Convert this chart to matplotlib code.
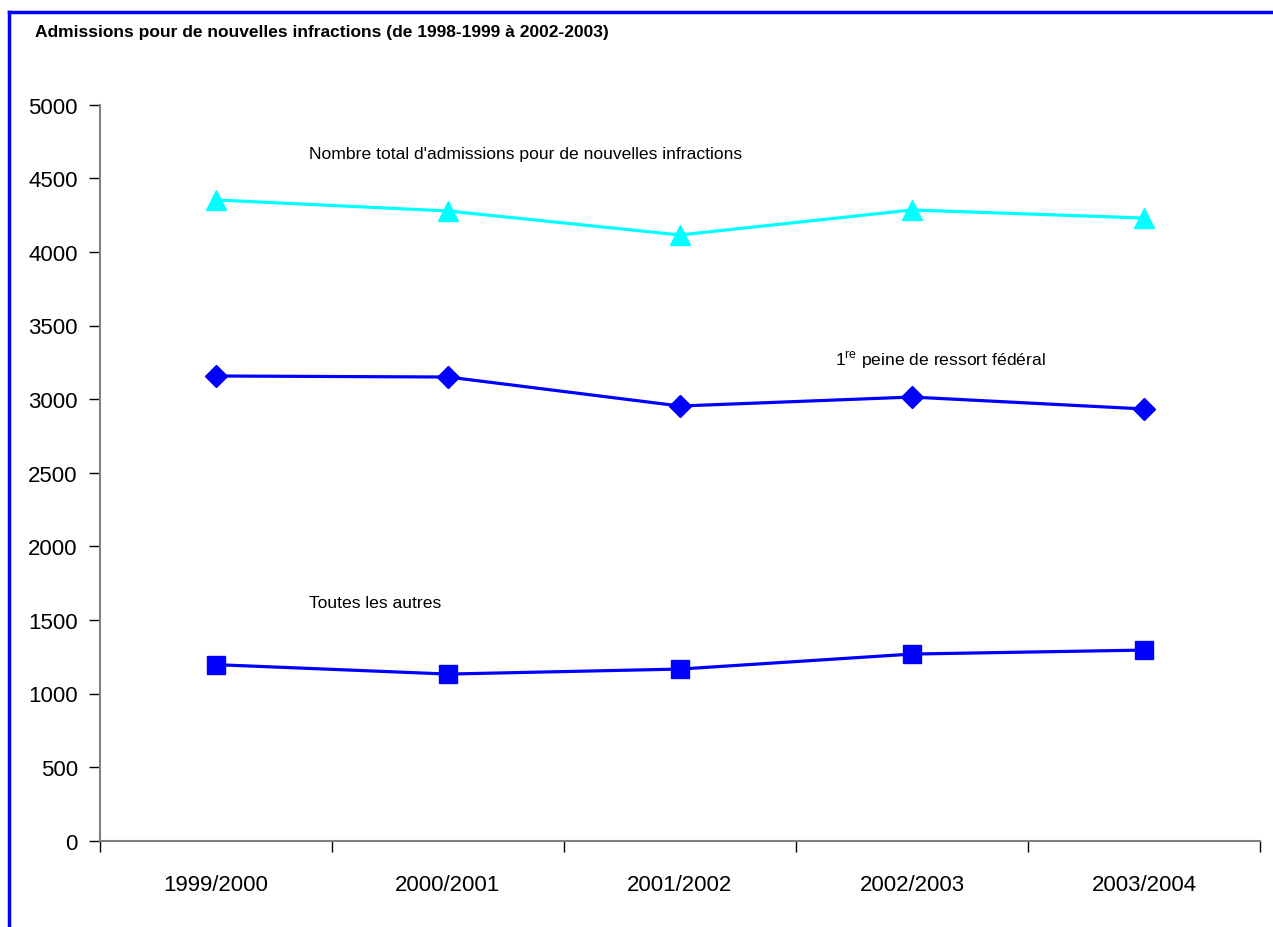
import matplotlib
matplotlib.use("Agg")
import matplotlib.pyplot as plt
from matplotlib.lines import Line2D
from matplotlib import font_manager

names = {f.name for f in font_manager.fontManager.ttflist}
narrow = "Liberation Sans Narrow" if "Liberation Sans Narrow" in names else "Liberation Sans"
plt.rcParams['font.family'] = [narrow, 'DejaVu Sans']

years = ["1999/2000", "2000/2001", "2001/2002", "2002/2003", "2003/2004"]
total = [4353, 4278, 4115, 4285, 4230]
premiere = [3157, 3150, 2953, 3014, 2933]
autres = [1196, 1132, 1166, 1268, 1295]
yticks = [0, 500, 1000, 1500, 2000, 2500, 3000, 3500, 4000, 4500, 5000]

W, H = 1273, 928
fig = plt.figure(figsize=(W / 100, H / 100), dpi=100)
ax = fig.add_axes([100 / W, 1 - 841.7 / H, 1160 / W, (841.7 - 105.7) / H])

x = list(range(len(years)))
ax.plot(x, total, color="#00FFFF", lw=2.3, marker="^", ms=14, zorder=3)
ax.plot(x, premiere, color="#0000FF", lw=2.3, marker="D", ms=11, zorder=3)
ax.plot(x, autres, color="#0000FF", lw=2.3, marker="s", ms=13, zorder=3)

ax.set_xlim(-0.5, 4.5)
ax.set_ylim(0, 5000)
ax.set_yticks(yticks)
ax.set_yticklabels([str(v) for v in yticks], fontsize=16)
ax.set_xticks(x)
ax.set_xticklabels(years, fontsize=16)
ax.tick_params(axis="x", which="major", length=0, pad=24)
ax.set_xticks([i - 0.5 for i in range(len(years) + 1)], minor=True)
ax.tick_params(axis="x", which="minor", length=8, direction="out", color="black", width=1)
ax.tick_params(axis="y", length=8, direction="out", color="black", width=1, pad=8)
for s in ("top", "right"):
    ax.spines[s].set_visible(False)
for s in ("left", "bottom"):
    ax.spines[s].set_color("#808080")
    ax.spines[s].set_linewidth(1.5)

ax.text(0.4, 4670, "Nombre total d'admissions pour de nouvelles infractions",
        fontsize=12.6, va="center", ha="left")
ax.text(2.67, 3270, r"1$^{\mathregular{re}}$ peine de ressort fédéral",
        fontsize=12.6, va="center", ha="left")
ax.text(0.4, 1620, "Toutes les autres", fontsize=12.6, va="center", ha="left")

fig.text(35 / W, 1 - 32 / H, "Admissions pour de nouvelles infractions (de 1998-1999 à 2002-2003)",
         fontsize=12.5, fontweight="bold", va="center", ha="left")

# frame along top and left edges
fig.add_artist(Line2D([9 / W, 1], [1 - 13 / H, 1 - 13 / H], color="#0000FF", lw=2.5,
                      transform=fig.transFigure))
fig.add_artist(Line2D([9 / W, 9 / W], [0, 1 - 13 / H], color="#0000FF", lw=2.5,
                      transform=fig.transFigure))

fig.savefig("out.png", dpi=100)
